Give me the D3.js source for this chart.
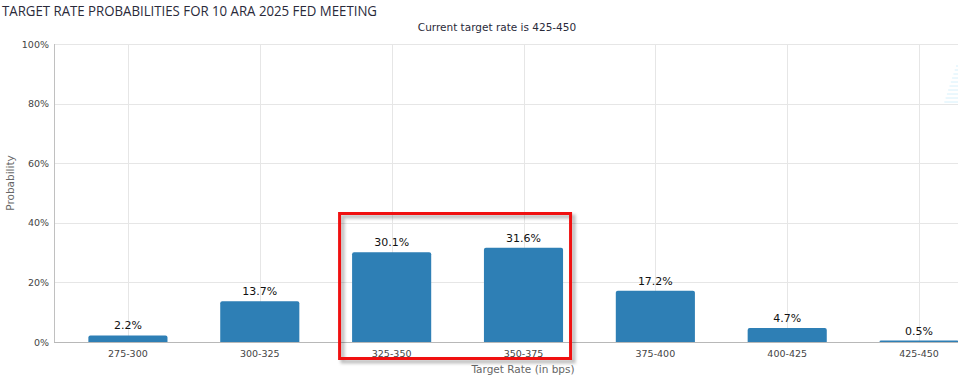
<!DOCTYPE html>
<html>
<head>
<meta charset="utf-8">
<script src="https://cdn.jsdelivr.net/npm/d3@7"></script>
<style>
  body { margin: 0; background: #fff; }
  svg { display: block; font-family: "DejaVu Sans", Verdana, sans-serif; }
</style>
</head>
<body>
<svg id="chart" width="958" height="377"></svg>
<script>
'use strict';

var rates = ["275-300", "300-325", "325-350", "350-375", "375-400", "400-425", "425-450"];
var probs = [2.2, 13.7, 30.1, 31.6, 17.2, 4.7, 0.5];
var yTicks = [0, 20, 40, 60, 80, 100];
var highlighted = ["325-350", "350-375"];

var svg = d3.select("#chart");

var x = d3.scaleBand()
    .domain(rates)
    .range([62, 985])
    .paddingInner(0.4)
    .paddingOuter(0.2);

var y = d3.scaleLinear()
    .domain([0, 100])
    .range([342, 44]);

// horizontal grid
svg.append("g")
    .selectAll("line")
    .data(yTicks)
    .enter().append("line")
    .attr("x1", 54)
    .attr("x2", 958)
    .attr("y1", (d) => { return Math.round(y(d)) + 0.5; })
    .attr("y2", (d) => { return Math.round(y(d)) + 0.5; })
    .attr("stroke", "#e6e6e6")
    .attr("stroke-width", 1);

// vertical grid at category centres
svg.append("g")
    .selectAll("line")
    .data(rates)
    .enter().append("line")
    .attr("x1", (d) => { return Math.round(x(d) + x.bandwidth() / 2) + 0.5; })
    .attr("x2", (d) => { return Math.round(x(d) + x.bandwidth() / 2) + 0.5; })
    .attr("y1", 44)
    .attr("y2", 342)
    .attr("stroke", "#e6e6e6")
    .attr("stroke-width", 1);

// faint watermark strokes in top right
var wm = [66, 70, 74, 78, 82, 86, 90, 94, 98, 102];
svg.append("g")
    .selectAll("line")
    .data(wm)
    .enter().append("line")
    .attr("x1", (d, i) => { return 956 - i * 1.3; })
    .attr("x2", 958)
    .attr("y1", (d) => { return d; })
    .attr("y2", (d) => { return d; })
    .attr("stroke", "#d6f0fb")
    .attr("stroke-width", 1);

// axes lines
svg.append("line")
    .attr("x1", 54.5).attr("x2", 54.5)
    .attr("y1", 44).attr("y2", 342)
    .attr("stroke", "#c0c0c0");
svg.append("line")
    .attr("x1", 54).attr("x2", 958)
    .attr("y1", 342.5).attr("y2", 342.5)
    .attr("stroke", "#b8b8b8");

// y tick labels
svg.append("g")
    .selectAll("text")
    .data(yTicks)
    .enter().append("text")
    .attr("x", 49)
    .attr("y", (d) => { return y(d) + 3.5; })
    .attr("text-anchor", "end")
    .attr("font-size", "9.5px")
    .attr("fill", "#444")
    .text((d) => { return d + "%"; });

// y axis title
svg.append("text")
    .attr("transform", "translate(14,183) rotate(-90)")
    .attr("text-anchor", "middle")
    .attr("font-size", "10.5px")
    .attr("fill", "#666")
    .text("Probability");

// bars
var r = 2;
svg.append("g")
    .selectAll("path")
    .data(probs)
    .enter().append("path")
    .attr("fill", "#2e7fb5")
    .attr("d", (d, i) => {
        var x0 = x(rates[i]), w = x.bandwidth(), y0 = y(d), y1 = y(0);
        var rr = Math.min(r, (y1 - y0));
        return "M" + x0 + "," + y1 +
            "L" + x0 + "," + (y0 + rr) +
            "Q" + x0 + "," + y0 + " " + (x0 + rr) + "," + y0 +
            "L" + (x0 + w - rr) + "," + y0 +
            "Q" + (x0 + w) + "," + y0 + " " + (x0 + w) + "," + (y0 + rr) +
            "L" + (x0 + w) + "," + y1 + "Z";
    });

// data labels
svg.append("g")
    .selectAll("text")
    .data(probs)
    .enter().append("text")
    .attr("x", (d, i) => { return x(rates[i]) + x.bandwidth() / 2; })
    .attr("y", (d) => { return y(d) - 6; })
    .attr("text-anchor", "middle")
    .attr("font-size", "11px")
    .attr("fill", "#111")
    .text((d) => { return d.toFixed(1) + "%"; });

// x tick labels
svg.append("g")
    .selectAll("text")
    .data(rates)
    .enter().append("text")
    .attr("x", (d) => { return x(d) + x.bandwidth() / 2; })
    .attr("y", 357)
    .attr("text-anchor", "middle")
    .attr("font-size", "9.5px")
    .attr("fill", "#444")
    .text((d) => { return d; });

// x axis title
svg.append("text")
    .attr("x", 523)
    .attr("y", 373)
    .attr("text-anchor", "middle")
    .attr("font-size", "10.5px")
    .attr("fill", "#666")
    .text("Target Rate (in bps)");

// highlight box around the two most likely outcomes
var hx0 = x(highlighted[0]) - 12.5, hx1 = x(highlighted[1]) + x.bandwidth() + 7.5;
svg.append("rect")
    .attr("x", hx0 + 3)
    .attr("y", 216.5)
    .attr("width", hx1 - hx0)
    .attr("height", 145)
    .attr("fill", "none")
    .attr("stroke", "rgba(0,0,0,0.25)")
    .attr("stroke-width", 4)
    .style("filter", "blur(1.5px)");
svg.append("rect")
    .attr("x", hx0)
    .attr("y", 213.5)
    .attr("width", hx1 - hx0)
    .attr("height", 145)
    .attr("fill", "none")
    .attr("stroke", "#f01010")
    .attr("stroke-width", 3);

// titles
svg.append("text")
    .attr("x", 2)
    .attr("y", 16)
    .attr("font-family", "'Open Sans', sans-serif")
    .attr("font-size", "14px")
    .attr("fill", "#2a2a3a")
    .attr("textLength", 375)
    .attr("lengthAdjust", "spacingAndGlyphs")
    .text("TARGET RATE PROBABILITIES FOR 10 ARA 2025 FED MEETING");

svg.append("text")
    .attr("x", 497)
    .attr("y", 31)
    .attr("text-anchor", "middle")
    .attr("font-size", "10.5px")
    .attr("fill", "#2a2a3a")
    .text("Current target rate is 425-450");
</script>
</body>
</html>
